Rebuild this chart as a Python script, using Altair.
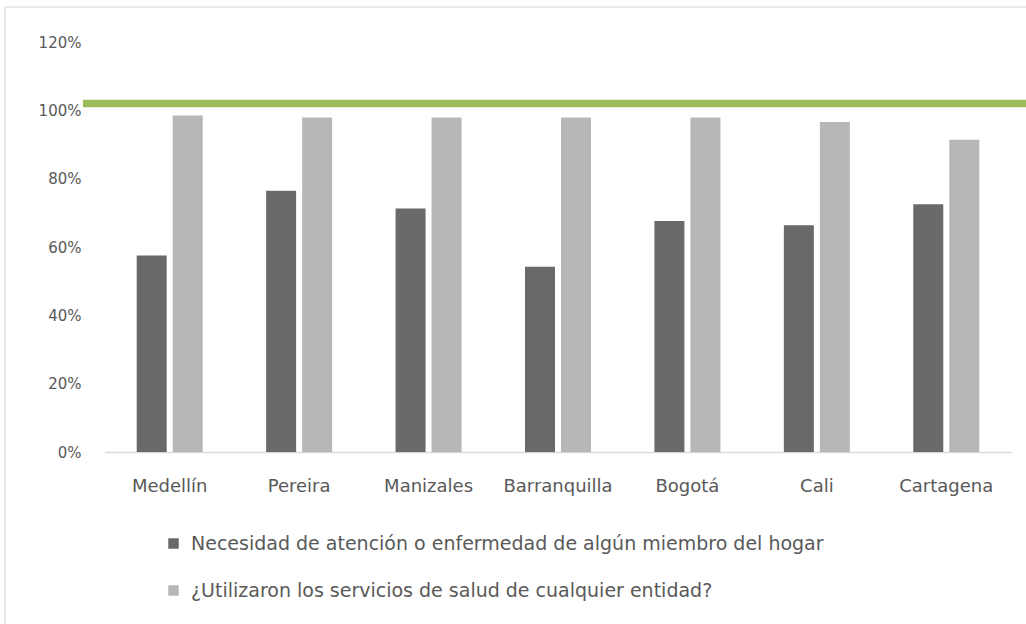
import altair as alt
import pandas as pd

cities = ["Medellín", "Pereira", "Manizales", "Barranquilla", "Bogotá", "Cali", "Cartagena"]
series = [
    "Necesidad de atención o enfermedad de algún miembro del hogar",
    "¿Utilizaron los servicios de salud de cualquier entidad?",
]
necesidad = [0.575, 0.765, 0.713, 0.542, 0.676, 0.664, 0.725]
utilizaron = [0.985, 0.979, 0.979, 0.979, 0.979, 0.966, 0.914]
reference_value = [1.02]
y_ticks = [0, 0.2, 0.4, 0.6, 0.8, 1.0, 1.2]

rows = []
for c, a, b in zip(cities, necesidad, utilizaron):
    rows.append({"city": c, "series": series[0], "value": a})
    rows.append({"city": c, "series": series[1], "value": b})
df = pd.DataFrame(rows)
ref_df = pd.DataFrame({"y": reference_value})

W, H = 906, 410
FONT = "DejaVu Sans"
TXT = "#595959"

bars = alt.Chart(df).mark_bar().encode(
    x=alt.X(
        "city:N",
        sort=cities,
        title=None,
        scale=alt.Scale(paddingInner=0.49, paddingOuter=0.245),
        axis=alt.Axis(
            labelAngle=0,
            ticks=False,
            domainColor="#d9d9d9",
            domainWidth=1.5,
            labelFont=FONT,
            labelFontSize=18,
            labelColor=TXT,
            labelPadding=25,
            grid=False,
        ),
    ),
    xOffset=alt.XOffset("series:N", sort=series, scale=alt.Scale(paddingInner=0.167)),
    y=alt.Y(
        "value:Q",
        title=None,
        scale=alt.Scale(domain=[0, 1.2], nice=False),
        axis=alt.Axis(
            values=y_ticks,
            format=".0%",
            domain=False,
            ticks=False,
            grid=False,
            labelFont=FONT,
            labelFontSize=15,
            labelColor=TXT,
            labelPadding=24,
        ),
    ),
    color=alt.Color(
        "series:N",
        sort=series,
        scale=alt.Scale(domain=series, range=["#696969", "#b7b7b7"]),
        legend=alt.Legend(
            title=None,
            orient="none",
            legendX=59,
            legendY=492,
            direction="vertical",
            symbolType="square",
            symbolSize=110,
            symbolStrokeWidth=0,
            labelFont=FONT,
            labelFontSize=19,
            labelColor=TXT,
            labelLimit=1000,
            labelOffset=8,
            rowPadding=27,
        ),
    ),
)

ref_line = alt.Chart(ref_df).mark_rule(color="#9bbb59", strokeWidth=7.5).encode(
    y="y:Q",
    x=alt.value(-22),
    x2=alt.value(W + 15),
)

border_top = alt.Chart(pd.DataFrame({"a": [0]})).mark_rule(color="#e3e3e3", strokeWidth=1.5).encode(
    x=alt.value(-100), x2=alt.value(W + 15), y=alt.value(-35)
)
border_left = alt.Chart(pd.DataFrame({"a": [0]})).mark_rule(color="#e3e3e3", strokeWidth=1.5).encode(
    x=alt.value(-100), y=alt.value(-35), y2=alt.value(H + 172)
)

chart = (
    alt.layer(border_top, border_left, bars, ref_line)
    .properties(
        width=W,
        height=H,
        padding={"left": 105, "top": 42, "right": 15, "bottom": 172},
        autosize=alt.AutoSizeParams(type="none"),
        background="white",
    )
    .configure_view(stroke=None)
)

chart.save("out.html", embed_options={"renderer": "svg", "actions": False})
